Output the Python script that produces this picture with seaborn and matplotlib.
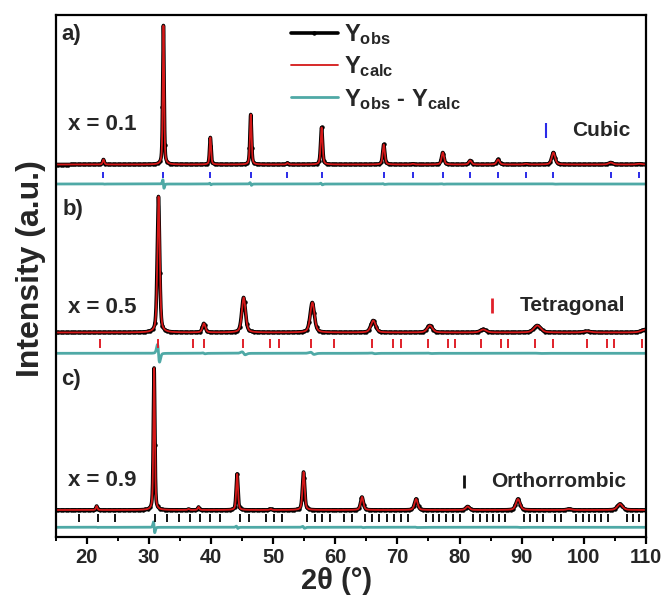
import numpy as np
import matplotlib
matplotlib.use("Agg")
import matplotlib.pyplot as plt
import seaborn as sns

# ---------------------------------------------------------------- data
two_theta_range = (15.0, 110.0)

# x = 0.1 : cubic phase (peak position, height in a.u., FWHM in degrees)
cubic_pos = [22.7, 32.35, 39.9, 46.4, 52.3, 57.8, 67.8, 72.5, 77.3, 81.7, 86.2, 90.7, 95.1, 104.3, 108.9]
cubic_int = [50, 1390, 270, 500, 15, 370, 200, 7, 120, 40, 50, 7, 120, 20, 8]
cubic_fwhm = [0.30, 0.26, 0.28, 0.30, 0.34, 0.36, 0.40, 0.44, 0.46, 0.50, 0.54, 0.58, 0.64, 0.78, 0.88]
cubic_bragg = [22.7, 32.35, 39.9, 46.4, 52.3, 57.85, 67.8, 72.5, 77.3, 81.7, 86.2, 90.7, 95.1, 104.3, 108.9]

# x = 0.5 : tetragonal phase
tetra_pos = [31.55, 38.85, 45.25, 56.3, 66.1, 75.2, 83.8, 92.5, 100.5, 109.9]
tetra_int = [1360, 90, 350, 300, 120, 70, 30, 70, 12, 30]
tetra_fwhm = [0.45, 0.55, 0.70, 0.80, 0.90, 1.00, 1.15, 1.30, 1.45, 1.55]
tetra_bragg = [22.15, 31.55, 37.1, 38.9, 45.1, 49.5, 50.9, 56.1, 59.8, 65.9, 69.3, 70.5,
               75.0, 78.1, 79.2, 83.5, 86.6, 87.8, 92.1, 95.1, 100.5, 103.7, 104.8, 109.4]

# x = 0.9 : orthorhombic phase
ortho_pos = [21.6, 30.85, 36.4, 38.0, 44.2, 49.6, 54.9, 64.3, 73.0, 81.3, 89.4, 97.6, 105.8]
ortho_int = [40, 1420, 10, 30, 360, 10, 380, 130, 110, 35, 110, 10, 60]
ortho_fwhm = [0.28, 0.28, 0.30, 0.30, 0.34, 0.38, 0.42, 0.52, 0.60, 0.68, 0.78, 0.88, 0.98]
ortho_bragg = [18.8, 21.75, 24.5, 31.0, 33.0, 34.8, 36.6, 38.2, 39.9, 41.5, 44.6, 46.1,
               48.9, 50.1, 51.4, 55.4, 56.7, 57.9, 59.1, 61.4, 62.7, 64.8, 65.9, 67.1,
               68.3, 69.4, 70.6, 71.7, 74.6, 75.7, 76.7, 77.9, 78.9, 80.0, 82.2, 83.3,
               84.4, 85.4, 86.3, 87.3, 90.4, 91.4, 92.4, 93.5, 95.4, 96.4, 98.8, 99.8,
               100.8, 101.8, 102.8, 103.9, 107.0, 107.9, 108.8]

# refined zero-point offset of the calculated pattern (degrees)
calc_shift = {"a": 0.006, "b": 0.022, "c": 0.008}

sample_labels = ["x = 0.1", "x = 0.5", "x = 0.9"]
phase_labels = ["Cubic", "Tetragonal", "Orthorrombic"]
panel_tags = ["a)", "b)", "c)"]

# --------------------------------------------------------------- layout
baseline = {"a": 3725, "b": 2045, "c": 270}
diff_level = {"a": 3530, "b": 1837, "c": 97}
bragg_span = {"a": (3590, 3650), "b": (1890, 1980), "c": (150, 230)}
bragg_color = {"a": "#2b2be8", "b": "#e0202a", "c": "#111111"}
key_x = {"a": 93.9, "b": 85.2, "c": 80.65}
key_span = {"a": (3990, 4140), "b": (2240, 2390), "c": (490, 620)}
key_lw = {"a": 1.5, "b": 2.0, "c": 2.0}
sample_y = {"a": 0.791, "b": 0.439, "c": 0.109}
phase_xy = {"a": (0.8747, 0.778), "b": (0.7866, 0.443), "c": (0.7375, 0.106)}
tag_xy = {"a": (0.009, 0.962), "b": (0.0125, 0.628), "c": (0.009, 0.301)}

OBS_C, CALC_C, DIFF_C = "#000000", "#d41818", "#4fa9a6"

# ---------------------------------------------------------------- style
sns.set_theme(style="white")
plt.rcParams["font.family"] = ["Liberation Sans", "DejaVu Sans"]
plt.rcParams["font.weight"] = "bold"
plt.rcParams["mathtext.fontset"] = "custom"
plt.rcParams["mathtext.rm"] = "Liberation Sans:bold"
plt.rcParams["mathtext.bf"] = "Liberation Sans:bold"
plt.rcParams["mathtext.it"] = "Liberation Sans:bold"

two_theta = np.arange(two_theta_range[0], two_theta_range[1] + 1e-9, 0.01)


def pattern(pos, inten, fwhm, shift=0.0, eta=0.45):
    y = np.zeros_like(two_theta)
    for p, h, w in zip(pos, inten, fwhm):
        d2 = (two_theta - p - shift) ** 2 / w ** 2
        y += h * (eta / (1.0 + 4.0 * d2) + (1 - eta) * np.exp(-4.0 * np.log(2) * d2))
    return y


fig = plt.figure(figsize=(6.65, 5.98), dpi=100)
ax = fig.add_axes([0.0836, 0.102, 0.8878, 0.8729])

panels = {
    "a": (cubic_pos, cubic_int, cubic_fwhm, cubic_bragg),
    "b": (tetra_pos, tetra_int, tetra_fwhm, tetra_bragg),
    "c": (ortho_pos, ortho_int, ortho_fwhm, ortho_bragg),
}

for i, (key, (pos, inten, fwhm, bragg)) in enumerate(panels.items()):
    y_obs = pattern(pos, inten, fwhm)
    y_calc = pattern(pos, inten, fwhm, shift=calc_shift[key])
    y_diff = y_obs - y_calc

    sns.lineplot(x=two_theta, y=y_obs + baseline[key], ax=ax, color=OBS_C, lw=2.6,
                 marker="o", markersize=2.4, mec=OBS_C, mfc=OBS_C, markevery=40,
                 estimator=None, sort=False,
                 label=r"$\mathbf{Y_{obs}}$" if key == "a" else None)
    sns.lineplot(x=two_theta, y=y_calc + baseline[key], ax=ax, color=CALC_C, lw=1.3,
                 estimator=None, sort=False,
                 label=r"$\mathbf{Y_{calc}}$" if key == "a" else None)
    sns.lineplot(x=two_theta, y=y_diff + diff_level[key], ax=ax, color=DIFF_C, lw=2.0,
                 estimator=None, sort=False,
                 label=r"$\mathbf{Y_{obs}}$ - $\mathbf{Y_{calc}}$" if key == "a" else None)

    lo, hi = bragg_span[key]
    ax.vlines(bragg, lo, hi, color=bragg_color[key], lw=1.4)
    klo, khi = key_span[key]
    ax.vlines([key_x[key]], klo, khi, color=bragg_color[key], lw=key_lw[key])

    ax.text(0.021, sample_y[key], sample_labels[i], transform=ax.transAxes,
            fontsize=16, fontweight="bold", va="center", ha="left")
    px, py = phase_xy[key]
    ax.text(px, py, phase_labels[i], transform=ax.transAxes,
            fontsize=15, fontweight="bold", va="center", ha="left")
    tx, ty = tag_xy[key]
    ax.text(tx, ty, panel_tags[i], transform=ax.transAxes,
            fontsize=16, fontweight="bold", va="center", ha="left")

leg_handles, leg_labels = ax.get_legend_handles_labels()
ax.legend(leg_handles[:3], leg_labels[:3], loc="upper left", bbox_to_anchor=(0.382, 1.005),
          frameon=False, fontsize=17, handlelength=2.0, handletextpad=0.25,
          labelspacing=0.32, numpoints=1, borderaxespad=0.0)

ax.set_xlim(*two_theta_range)
ax.set_ylim(0, 5220)
ax.set_yticks([])
ax.set_xticks(np.arange(20, 111, 10))
ax.set_xticks(np.arange(15, 111, 5), minor=True)
ax.tick_params(axis="x", which="major", direction="out", length=5, width=1.6,
               labelsize=14.5, pad=3, bottom=True, color="black")
ax.tick_params(axis="x", which="minor", direction="out", length=2.8, width=1.4,
               bottom=True, color="black")
for lab in ax.get_xticklabels():
    lab.set_fontweight("bold")
for sp in ax.spines.values():
    sp.set_visible(True)
    sp.set_color("black")
    sp.set_linewidth(1.6)

ax.set_xlabel("2θ (°)", fontsize=21, fontweight="bold", labelpad=0)
ax.xaxis.label.set_x(0.4766)
ax.set_ylabel("Intensity (a.u.)", fontsize=23, fontweight="bold", labelpad=7)
ax.yaxis.label.set_y(0.515)

fig.savefig("out.png", dpi=100, facecolor="white")
